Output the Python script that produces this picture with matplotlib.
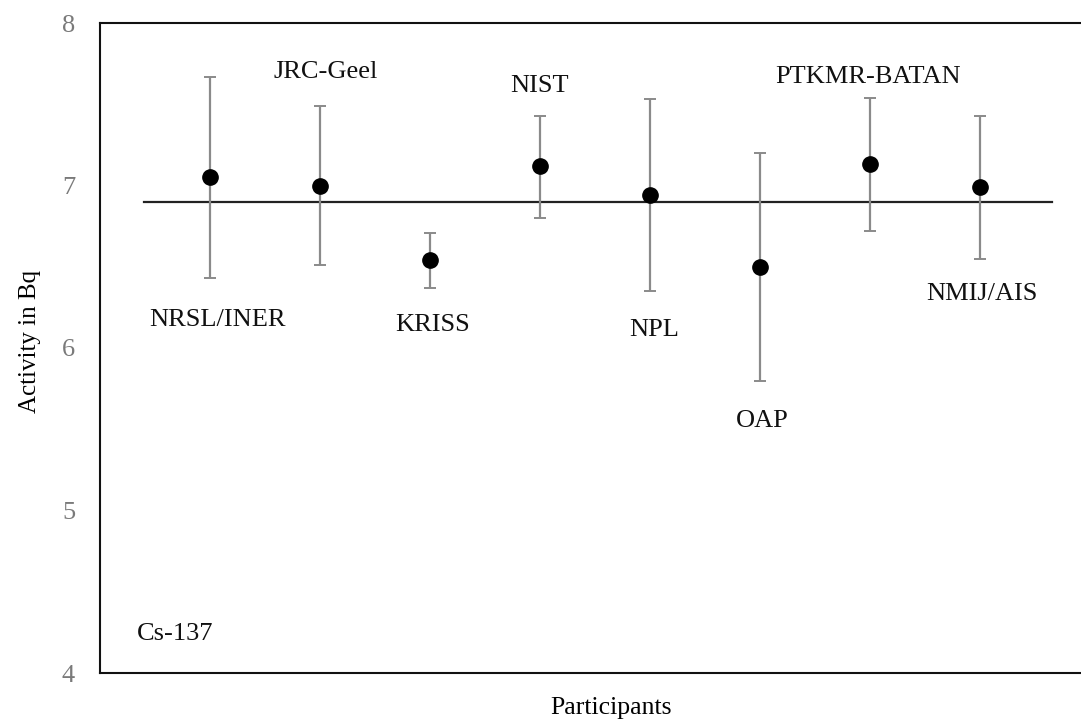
import matplotlib
matplotlib.use("Agg")
import matplotlib.pyplot as plt

participants = ["NRSL/INER", "JRC-Geel", "KRISS", "NIST", "NPL", "OAP", "PTKMR-BATAN", "NMIJ/AIS"]
activity = [7.05, 7.00, 6.54, 7.12, 6.94, 6.50, 7.13, 6.99]
upper = [7.67, 7.49, 6.71, 7.43, 7.53, 7.20, 7.54, 7.43]
lower = [6.43, 6.51, 6.37, 6.80, 6.35, 5.80, 6.72, 6.55]
ref_value = 6.90
y_ticks = [4, 5, 6, 7, 8]

# label positions (x, y) in data coordinates
label_pos = [(1.07, 6.17), (2.05, 7.70), (3.02, 6.14), (4.0, 7.61),
             (5.04, 6.11), (6.02, 5.55), (6.98, 7.67), (8.02, 6.33)]

plt.rcParams['font.family'] = ['Liberation Serif', 'DejaVu Serif']

fig = plt.figure(figsize=(10.81, 7.23), dpi=100)
ax = fig.add_axes([100/1081, 50/723, 990/1081, 650/723])

x = list(range(1, len(participants) + 1))
yerr = [[a - l for a, l in zip(activity, lower)], [u - a for a, u in zip(activity, upper)]]
ax.errorbar(x, activity, yerr=yerr, fmt='o', color='black', markersize=11,
            ecolor='#8a8a8a', elinewidth=1.6, capsize=4, capthick=1.4, zorder=3)
ax.plot([0.4, 8.65], [ref_value, ref_value], color='#222222', linewidth=1.6, zorder=2)

for name, (px, py) in zip(participants, label_pos):
    ax.text(px, py, name, ha='center', va='center', fontsize=19, color='#111111')
ax.text(0.68, 4.24, "Cs-137", ha='center', va='center', fontsize=19, color='#111111')

ax.set_xlim(0, 9)
ax.set_ylim(4, 8)
ax.set_yticks(y_ticks)
ax.set_yticklabels([str(t) for t in y_ticks], fontsize=19, color='#7a7a7a')
ax.set_xticks([])
ax.tick_params(axis='y', length=0, pad=18)
for s in ax.spines.values():
    s.set_linewidth(1.5)
    s.set_color('#111111')
ax.set_ylabel("Activity in Bq", fontsize=18, labelpad=15)
ax.set_xlabel("Participants", fontsize=18.5)
ax.xaxis.set_label_coords((611 - 100) / 990, -0.037, transform=ax.transAxes)
ax.xaxis.label.set_va('top')
ax.yaxis.label.set_y(0.51)

fig.savefig("out.png", dpi=100)
